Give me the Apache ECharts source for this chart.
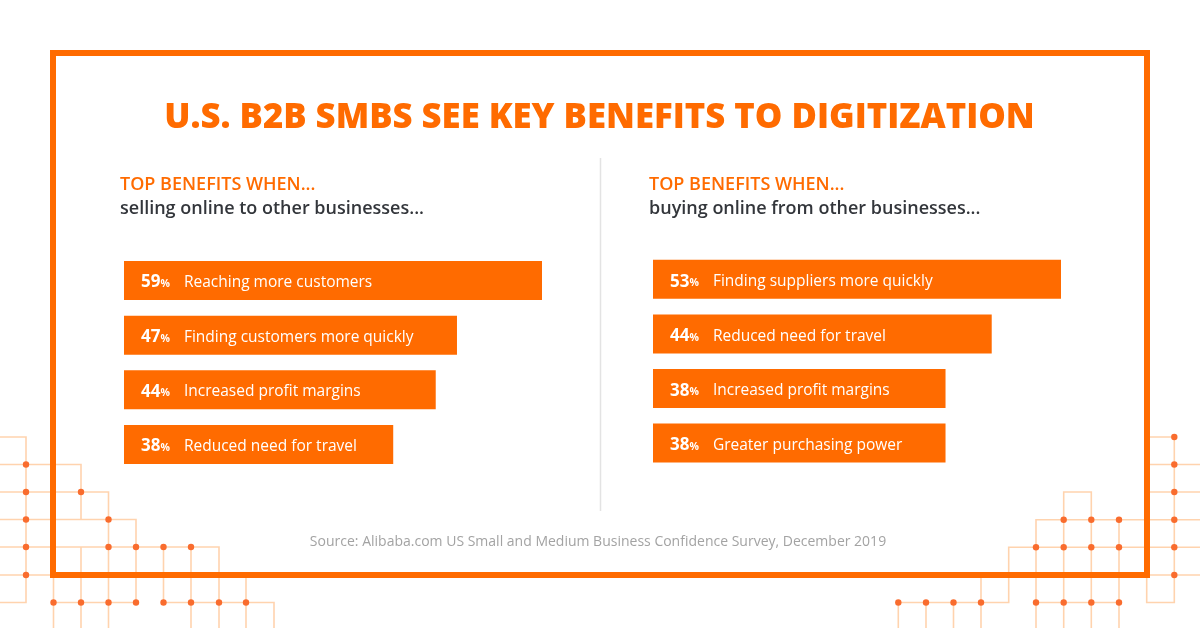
<!DOCTYPE html>
<html><head><meta charset="utf-8">
<style>html,body{margin:0;padding:0;background:#fff}#c{width:1200px;height:628px}</style>
<script src="https://cdn.jsdelivr.net/npm/echarts@6/dist/echarts.min.js"></script>
</head><body><div id="c"></div>
<script>
const chartTitle = 'U.S. B2B SMBS SEE KEY BENEFITS TO DIGITIZATION';
const leftHead = 'TOP BENEFITS WHEN...';
const leftSub = 'selling online to other businesses...';
const rightHead = 'TOP BENEFITS WHEN...';
const rightSub = 'buying online from other businesses...';
const source = 'Source: Alibaba.com US Small and Medium Business Confidence Survey, December 2019';
const leftCategories = ['Reaching more customers','Finding customers more quickly','Increased profit margins','Reduced need for travel'];
const leftValues = [59,47,44,38];
const rightCategories = ['Finding suppliers more quickly','Reduced need for travel','Increased profit margins','Greater purchasing power'];
const rightValues = [53,44,38,38];

const ORANGE = '#FF6B00', LINE = '#FFD3AE', DOT = '#F96C2E';
const FONT = '"Open Sans", sans-serif';

// Decorative circuit pattern
const decoPaths = [
 [[0,437],[26,437],[26,602.5],[0,602.5]],
 [[0,464.5],[81,464.5],[81,519.5]],
 [[0,492],[108.5,492],[108.5,628]],
 [[0,519.5],[136,519.5],[136,602.5]],
 [[0,547],[219,547],[219,628]],
 [[0,575],[53.5,575],[53.5,628]],
 [[53.5,602.5],[136,602.5]],
 [[163.5,602.5],[274,602.5],[274,628]],
 [[81,547],[81,628]],[[163.5,547],[163.5,602.5]],[[191,547],[191,628]],[[246,575],[246,628]],
 [[1146.7,437],[1174.3,437],[1174.3,602.5],[1146.7,602.5],[1146.7,575],[1200,575]],
 [[1146.7,464.5],[1200,464.5]],[[1146.7,492],[1200,492]],
 [[1063.7,628],[1063.7,492],[1091.3,492],[1091.3,628]],
 [[1036,628],[1036,519.7],[1200,519.7]],
 [[1119,519.7],[1119,628]],
 [[981,575],[981,628]],
 [[898.3,628],[898.3,602.5],[1008.7,602.5],[1008.7,547.3],[1200,547.3]],
 [[926,602.5],[926,628]],[[953.5,602.5],[953.5,628]],
 [[1036,602.5],[1119,602.5]]
];
const decoDots = [
 [26,464.5],[26,492],[26,519.5],[26,547],[26,575],[81,492],[108.5,519.5],[108.5,547],[136,547],[163.5,547],[191,547],
 [53.5,602.5],[81,602.5],[108.5,602.5],[136,602.5],[163.5,602.5],[191,602.5],[219,602.5],[246,602.5],
 [1174.3,437],[1174.3,464.5],[1174.3,492],[1174.3,519.7],[1174.3,547.3],[1174.3,575],
 [1063.7,519.7],[1091.3,519.7],[1119,519.7],[1036,547.3],[1063.7,547.3],[1091.3,547.3],[1119,547.3],
 [898.3,602.5],[926,602.5],[953.5,602.5],[981,602.5],[1036,602.5],[1063.7,602.5],[1091.3,602.5],[1119,602.5]
];
const graphics = [];
decoPaths.forEach(p => graphics.push({type:'polyline',silent:true,z:1,shape:{points:p},style:{stroke:LINE,lineWidth:1.6,fill:null}}));
decoDots.forEach(d => graphics.push({type:'circle',silent:true,z:2,shape:{cx:d[0],cy:d[1],r:3.2},style:{fill:DOT}}));
graphics.push({type:'rect',silent:true,z:3,shape:{x:53,y:53,width:1094,height:522},style:{fill:null,stroke:ORANGE,lineWidth:6}});
graphics.push({type:'line',silent:true,z:3,shape:{x1:600.5,y1:158,x2:600.5,y2:511},style:{stroke:'#E3E3E3',lineWidth:1.5}});

function head(text, left, top, color, weight){
  return {text, left, top, textStyle:{fontFamily:FONT,fontSize:18,fontWeight:weight,color}};
}
function barSeries(values, cats, i, dy){
  return {type:'bar',xAxisIndex:i,yAxisIndex:i,barWidth:39,z:5,silent:true,
    data:values.map((v,k)=>({value:v,name:cats[k]})),
    itemStyle:{color:ORANGE},
    label:{show:true,position:'insideLeft',distance:17,offset:[0,dy],
      formatter:p=>`{v|${p.value}}{p|%}{n|${p.name}}`,
      rich:{
        v:{fontFamily:FONT,fontSize:17,fontWeight:700,color:'#fff'},
        p:{fontFamily:FONT,fontSize:10.5,fontWeight:700,color:'#fff',padding:[3,14,0,0]},
        n:{fontFamily:FONT,fontSize:15.5,fontWeight:400,color:'#fff'}
      }}};
}
const chart = echarts.init(document.getElementById('c'),null,{renderer:'canvas'});
chart.setOption({
  animation:false,backgroundColor:'#fff',
  graphic:graphics,
  title:[
    {text:chartTitle,left:594.5,top:96,textAlign:'center',textStyle:{fontFamily:FONT,fontSize:34.7,fontWeight:800,color:ORANGE}},
    head(leftHead,115,171,ORANGE,600),
    head(leftSub,115,195,'#33363B',600),
    head(rightHead,644,171,ORANGE,600),
    head(rightSub,644,195,'#33363B',600),
    {text:source,left:593,top:530,textAlign:'center',textStyle:{fontFamily:FONT,fontSize:14,fontWeight:400,color:'#A3A3A3'}}
  ],
  grid:[
    {left:124,top:253.3,width:418,height:218.4},
    {left:653,top:252,width:408,height:218.4}
  ],
  xAxis:[
    {type:'value',gridIndex:0,min:0,max:leftValues[0],show:false},
    {type:'value',gridIndex:1,min:0,max:rightValues[0],show:false}
  ],
  yAxis:[
    {type:'category',gridIndex:0,inverse:true,data:leftCategories,show:false},
    {type:'category',gridIndex:1,inverse:true,data:rightCategories,show:false}
  ],
  series:[barSeries(leftValues,leftCategories,0,2),barSeries(rightValues,rightCategories,1,2.5)]
});
</script></body></html>
